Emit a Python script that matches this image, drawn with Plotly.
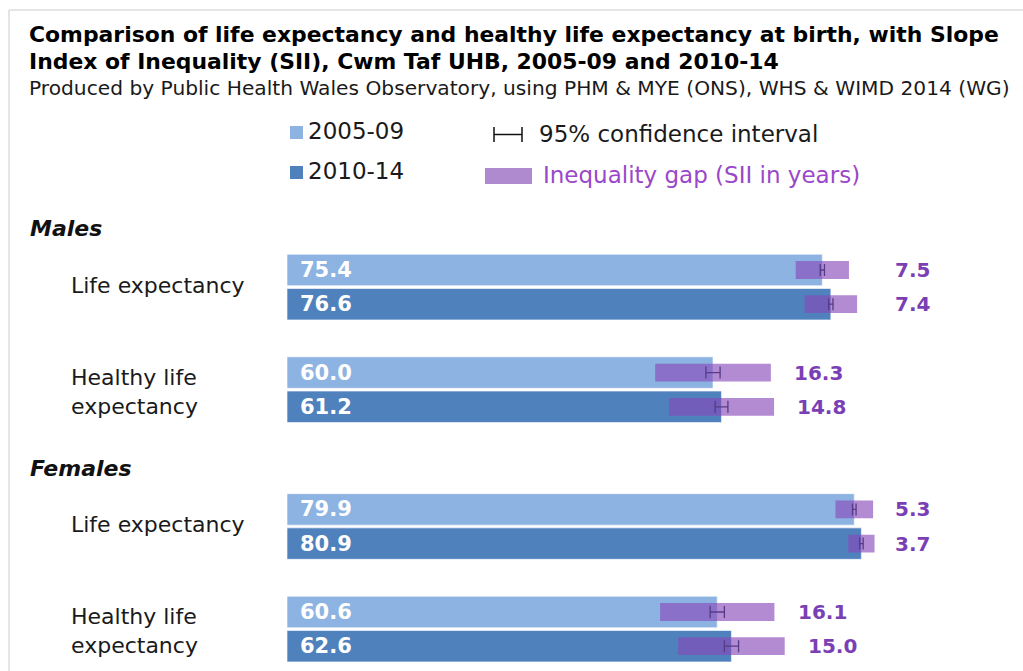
import plotly.graph_objects as go

# ---------------- data ----------------
sexes = ["Males", "Females"]
measures = ["Life expectancy", "Healthy life<br>expectancy"]
periods = ["2005-09", "2010-14"]

# order: Males LE, Males HLE, Females LE, Females HLE
expectancy_2005_09 = [75.4, 60.0, 79.9, 60.6]
expectancy_2010_14 = [76.6, 61.2, 80.9, 62.6]
sii_2005_09 = [7.5, 16.3, 5.3, 16.1]
sii_2010_14 = [7.4, 14.8, 3.7, 15.0]
ci_2005_09 = [0.3, 1.0, 0.25, 1.0]
ci_2010_14 = [0.3, 0.9, 0.25, 1.0]

# ---------------- layout helpers ----------------
W, H = 1023, 671
LM = 287            # left margin (x = 0 of the value axis)
PX_PER_YEAR = 7.1
Y0, SLOT = 270, 34.2  # pixel centre of first bar, pixels per slot
LE_LABEL_COL = 85.35  # value-axis column for the life-expectancy SII labels


def px(x):
    return (x - LM) / (W - LM)


def py(y):
    return 1 - y / H


LIGHT = "#8DB3E2"
DARK = "#4F81BD"
PURPLE = "rgba(136,73,186,0.64)"
PURPLE_TXT = "#7B3FB5"
FONT = "DejaVu Sans"

slots_a, slots_b, meas_idx = [], [], []
for i in range(4):
    s, m = divmod(i, 2)
    base = s * 7 + m * 3
    slots_a.append(base)
    slots_b.append(base + 1)
    meas_idx.append(m)

fig = go.Figure()

bar_w = 0.92
fig.add_trace(go.Bar(y=slots_a, x=expectancy_2005_09, orientation="h", width=bar_w,
                     marker=dict(color=LIGHT, line=dict(color="rgba(255,255,255,0.6)", width=1)),
                     name=periods[0], showlegend=False))
fig.add_trace(go.Bar(y=slots_b, x=expectancy_2010_14, orientation="h", width=bar_w,
                     marker=dict(color=DARK, line=dict(color="rgba(255,255,255,0.6)", width=1)),
                     name=periods[1], showlegend=False))

all_slots = slots_a + slots_b
all_le = expectancy_2005_09 + expectancy_2010_14
all_sii = sii_2005_09 + sii_2010_14
all_ci = ci_2005_09 + ci_2010_14
all_meas = meas_idx + meas_idx

fig.add_trace(go.Bar(y=all_slots, x=all_sii, base=[v - s / 2 for v, s in zip(all_le, all_sii)],
                     orientation="h", width=0.52, marker=dict(color=PURPLE, line=dict(width=0)),
                     name="Inequality gap", showlegend=False))

fig.add_trace(go.Scatter(y=all_slots, x=all_le, mode="markers",
                         marker=dict(size=1, color="rgba(0,0,0,0)"),
                         error_x=dict(type="data", array=all_ci, symmetric=True,
                                      color="#553C85", thickness=1.3, width=6),
                         showlegend=False, hoverinfo="skip"))

ann = []
# value labels inside bars
for sl, v in zip(all_slots, all_le):
    ann.append(dict(x=1.6, y=sl, xref="x", yref="y", text=f"{v:.1f}", showarrow=False,
                    xanchor="left", yanchor="middle",
                    font=dict(family=FONT, size=21, color="white", weight="bold")))
# SII labels
for sl, v, s, m in zip(all_slots, all_le, all_sii, all_meas):
    xl = LE_LABEL_COL if m == 0 else v + s / 2 + 3.0
    ann.append(dict(x=xl, y=sl, xref="x", yref="y", text=f"{s:.1f}", showarrow=False,
                    xanchor="left", yanchor="middle",
                    font=dict(family=FONT, size=20, color=PURPLE_TXT, weight="bold")))
# category labels
for i in range(4):
    s, m = divmod(i, 2)
    dy = -0.05 if m == 0 else 0.07
    ann.append(dict(x=px(69), y=(slots_a[i] + slots_b[i]) / 2 + dy, xref="paper", yref="y",
                    text=measures[m], showarrow=False, xanchor="left", yanchor="middle", align="left",
                    font=dict(family=FONT, size=22, color="#1a1a1a")))
# sex headers
for s in range(2):
    ann.append(dict(x=px(28), y=slots_a[s * 2] - 1.2, xref="paper", yref="y",
                    text=f"<b><i>{sexes[s]}</i></b>", showarrow=False, xanchor="left", yanchor="middle",
                    font=dict(family=FONT, size=22, color="#111")))

# titles
ann.append(dict(x=px(27), y=py(34), xref="paper", yref="paper", showarrow=False,
                text="<b>Comparison of life expectancy and healthy life expectancy at birth, with Slope</b>",
                xanchor="left", yanchor="middle", font=dict(family=FONT, size=21.9, color="#000")))
ann.append(dict(x=px(27), y=py(61), xref="paper", yref="paper", showarrow=False,
                text="<b>Index of Inequality (SII), Cwm Taf UHB, 2005-09 and 2010-14</b>",
                xanchor="left", yanchor="middle", font=dict(family=FONT, size=21.9, color="#000")))
ann.append(dict(x=px(27), y=py(88), xref="paper", yref="paper", showarrow=False,
                text="Produced by Public Health Wales Observatory, using PHM & MYE (ONS), WHS & WIMD 2014 (WG)",
                xanchor="left", yanchor="middle", font=dict(family=FONT, size=20.2, color="#1a1a1a")))

# legend texts
ann.append(dict(x=px(306), y=py(131), xref="paper", yref="paper", showarrow=False, text=periods[0],
                xanchor="left", yanchor="middle", font=dict(family=FONT, size=23, color="#1a1a1a")))
ann.append(dict(x=px(306), y=py(171), xref="paper", yref="paper", showarrow=False, text=periods[1],
                xanchor="left", yanchor="middle", font=dict(family=FONT, size=23, color="#1a1a1a")))
ann.append(dict(x=px(537), y=py(134), xref="paper", yref="paper", showarrow=False,
                text="95% confidence interval",
                xanchor="left", yanchor="middle", font=dict(family=FONT, size=23, color="#1a1a1a")))
ann.append(dict(x=px(541), y=py(175), xref="paper", yref="paper", showarrow=False,
                text="Inequality gap (SII in years)",
                xanchor="left", yanchor="middle", font=dict(family=FONT, size=23, color="#9B47C9")))

shapes = [
    # frame
    dict(type="line", xref="paper", yref="paper", x0=px(9), x1=px(W + 5), y0=py(10), y1=py(10),
         line=dict(color="#DDDDDD", width=1.5)),
    dict(type="line", xref="paper", yref="paper", x0=px(9), x1=px(9), y0=py(10), y1=py(H + 5),
         line=dict(color="#DDDDDD", width=1.5)),
    # legend swatches
    dict(type="rect", xref="paper", yref="paper", x0=px(290), x1=px(303), y0=py(126), y1=py(139),
         fillcolor=LIGHT, line=dict(width=0)),
    dict(type="rect", xref="paper", yref="paper", x0=px(290), x1=px(303), y0=py(166), y1=py(179),
         fillcolor=DARK, line=dict(width=0)),
    dict(type="rect", xref="paper", yref="paper", x0=px(485), x1=px(532), y0=py(168), y1=py(184),
         fillcolor="#B08ACE", line=dict(width=0)),
    dict(type="line", xref="paper", yref="paper", x0=px(494), x1=px(522), y0=py(134.5), y1=py(134.5),
         line=dict(color="#111", width=1.5)),
    dict(type="line", xref="paper", yref="paper", x0=px(494), x1=px(494), y0=py(127), y1=py(142),
         line=dict(color="#111", width=1.5)),
    dict(type="line", xref="paper", yref="paper", x0=px(522), x1=px(522), y0=py(127), y1=py(142),
         line=dict(color="#111", width=1.5)),
]

fig.update_layout(
    width=W, height=H,
    margin=dict(l=LM, r=0, t=0, b=0),
    paper_bgcolor="white", plot_bgcolor="white",
    barmode="overlay",
    xaxis=dict(range=[0, (W - LM) / PX_PER_YEAR], visible=False, fixedrange=True),
    yaxis=dict(range=[(H - Y0) / SLOT, -Y0 / SLOT], visible=False, fixedrange=True),
    annotations=ann, shapes=shapes,
    showlegend=False,
)

fig.write_html("out.html", config={"displayModeBar": False},
               post_script="document.body.style.margin='0';")
